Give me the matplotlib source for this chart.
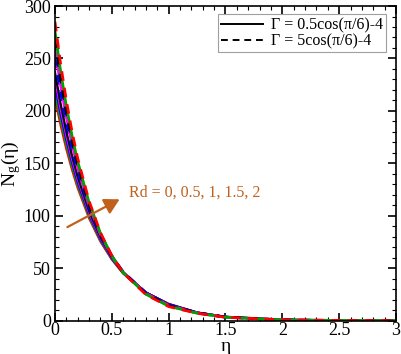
import matplotlib
matplotlib.use("Agg")
import matplotlib.pyplot as plt
from matplotlib.lines import Line2D
from matplotlib.ticker import MultipleLocator, FuncFormatter

# === DATA ===
eta = [0, 0.05, 0.1, 0.15, 0.2, 0.3, 0.4, 0.5, 0.6, 0.8, 1.0, 1.25, 1.5, 2.0, 2.5, 3.0]

rd_values = ["0", "0.5", "1", "1.5", "2"]

# Gamma = 0.5cos(pi/6)-4 (solid)
ng_solid = [
    [212, 186.3, 163.8, 144.0, 126.6, 97.8, 75.5, 58.4, 45.1, 26.9, 16.1, 7.9, 3.7, 0.8, 0.2, 0.05],
    [218, 191.2, 167.8, 147.2, 129.1, 99.4, 76.5, 58.8, 45.3, 26.8, 15.9, 7.8, 3.7, 0.8, 0.2, 0.05],
    [225, 196.9, 172.4, 150.9, 132.1, 101.3, 77.6, 59.5, 45.6, 26.8, 15.7, 7.8, 3.6, 0.8, 0.2, 0.05],
    [231, 201.9, 176.5, 154.3, 134.9, 103.0, 78.8, 60.2, 46.0, 26.8, 15.7, 7.7, 3.6, 0.8, 0.2, 0.05],
    [237, 206.8, 180.6, 157.6, 137.5, 104.8, 79.8, 60.8, 46.3, 26.9, 15.6, 7.7, 3.6, 0.8, 0.2, 0.05],
]

# Gamma = 5cos(pi/6)-4 (dashed)
ng_dashed = [
    [250, 217.4, 189.0, 164.3, 142.8, 108.0, 81.5, 61.6, 46.6, 26.6, 15.2, 7.6, 3.5, 0.8, 0.2, 0.05],
    [259, 224.3, 194.4, 168.4, 145.9, 109.5, 82.2, 61.7, 46.3, 26.1, 14.7, 7.4, 3.5, 0.8, 0.2, 0.05],
    [267, 230.6, 199.2, 172.0, 148.6, 110.9, 82.7, 61.7, 46.0, 25.6, 14.3, 7.3, 3.4, 0.8, 0.2, 0.05],
    [276, 237.7, 204.7, 176.3, 151.8, 112.6, 83.5, 61.9, 45.9, 25.3, 13.9, 7.2, 3.4, 0.8, 0.2, 0.05],
    [285, 244.7, 210.1, 180.4, 154.9, 114.2, 84.1, 62.0, 45.7, 24.9, 13.5, 7.1, 3.3, 0.8, 0.2, 0.05],
]

solid_colors = ["#ff0000", "#00a000", "#0000ff", "#ff00ff", "black"]
dashed_colors = ["#0000ff", "#ff00ff", "black", "#00a000", "#ff0000"]
arrow_color = "#c0601a"

plt.rcParams["font.family"] = ["Liberation Serif", "DejaVu Serif"]
plt.rcParams["mathtext.fontset"] = "stix"

fig = plt.figure(figsize=(4.01, 3.54), dpi=100)
ax = fig.add_axes([0.137, 0.094, 0.8505, 0.889])

for i in range(len(rd_values)):
    ax.plot(eta, ng_solid[i], color=solid_colors[i], lw=1.6, solid_joinstyle="round")
for i in range(len(rd_values)):
    ax.plot(eta, ng_dashed[i], color=dashed_colors[i], lw=2.0, ls=(0, (3.5, 2.5)))

ax.set_xlim(0, 3)
ax.set_ylim(0, 300)
ax.xaxis.set_major_locator(MultipleLocator(0.5))
ax.xaxis.set_minor_locator(MultipleLocator(0.1))
ax.yaxis.set_major_locator(MultipleLocator(50))
ax.yaxis.set_minor_locator(MultipleLocator(10))
ax.xaxis.set_major_formatter(FuncFormatter(lambda v, p: f"{v:g}"))
ax.tick_params(which="both", direction="in", top=True, right=True, labelsize=13)
ax.tick_params(which="major", length=6, width=1.2)
ax.tick_params(axis="x", which="major", pad=1)
ax.tick_params(axis="y", which="major", pad=3)
ax.tick_params(which="minor", length=3, width=0.8)
for s in ax.spines.values():
    s.set_linewidth(1.2)

ax.set_xlabel("η", fontsize=14, labelpad=-1)
ax.set_ylabel(r"N$_\mathregular{g}$(η)", fontsize=14, labelpad=0.5)

# arrow + annotation
ax.annotate("", xy=(0.59, 117), xytext=(0.088, 88),
            arrowprops=dict(arrowstyle="-|>,head_length=0.9,head_width=0.5",
                            color=arrow_color, lw=1.6))
ax.text(0.65, 122, "Rd = 0, 0.5, 1, 1.5, 2", color=arrow_color,
        fontsize=11.5, va="center", ha="left")

handles = [Line2D([], [], color="black", lw=1.4),
           Line2D([], [], color="black", lw=1.4, ls=(0, (3.5, 2.5)))]
leg = ax.legend(handles, ["Γ = 0.5cos(π/6)-4", "Γ = 5cos(π/6)-4"],
                loc="upper right", fontsize=11.5, frameon=True, fancybox=False,
                handlelength=2.6, borderpad=0.2, labelspacing=0.0,
                handletextpad=0.5, borderaxespad=0.3,
                bbox_to_anchor=(0.985, 0.99))
leg.get_frame().set_edgecolor("#888888")
leg.get_frame().set_linewidth(0.8)

fig.savefig("out.png", dpi=100)
